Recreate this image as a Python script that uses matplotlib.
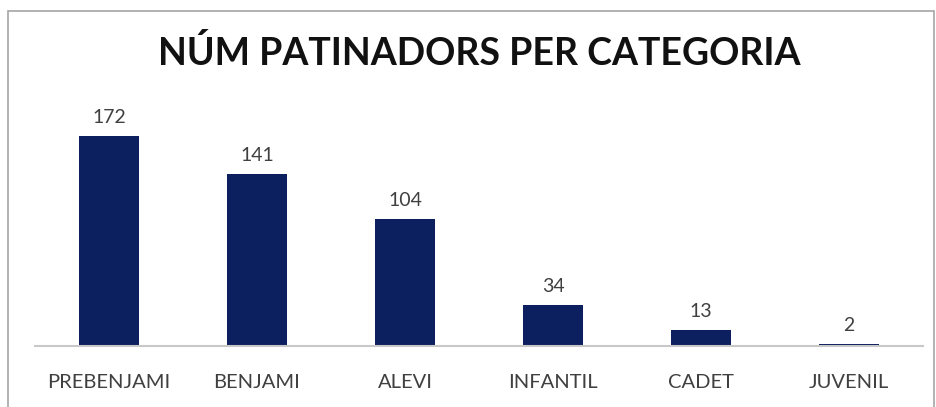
import matplotlib
matplotlib.use("Agg")
import matplotlib.pyplot as plt
from matplotlib.patches import Rectangle

categories = ["PREBENJAMI", "BENJAMI", "ALEVI", "INFANTIL", "CADET", "JUVENIL"]
values = [172, 141, 104, 34, 13, 2]

plt.rcParams['font.family'] = ['Lato', 'DejaVu Sans']

fig = plt.figure(figsize=(9.36, 4.07), dpi=100)

# outer chart frame
fig.patches.append(Rectangle((8 / 936, -0.01), 926 / 936, (407 - 11) / 407 + 0.01,
                             transform=fig.transFigure, fill=False,
                             edgecolor="#a6a6a6", linewidth=1.2))

ax = fig.add_axes([35 / 936, 61 / 407, 888 / 936, 244 / 407])
x = range(len(categories))
bars = ax.bar(x, values, width=0.405, color="#0c1f5e")

for bar, v in zip(bars, values):
    ax.text(bar.get_x() + bar.get_width() / 2, v + 8, str(v),
            ha="center", va="bottom", fontsize=14, color="#404040")

ax.set_xlim(-0.5, len(categories) - 0.5)
ax.set_ylim(0, 200)
ax.set_xticks(list(x))
ax.set_xticklabels(categories, fontsize=14.5, color="#404040")
ax.tick_params(axis="x", length=0, pad=20)
ax.set_yticks([])
for s in ["top", "right", "left"]:
    ax.spines[s].set_visible(False)
ax.spines["bottom"].set_color("#c8c8c8")
ax.spines["bottom"].set_linewidth(1.5)

fig.text(479 / 936, 1 - 53 / 407, "NÚM PATINADORS PER CATEGORIA",
         ha="center", va="center", fontsize=27, fontweight="bold", color="#111111")

plt.savefig("out.png", dpi=100)
plt.close()
